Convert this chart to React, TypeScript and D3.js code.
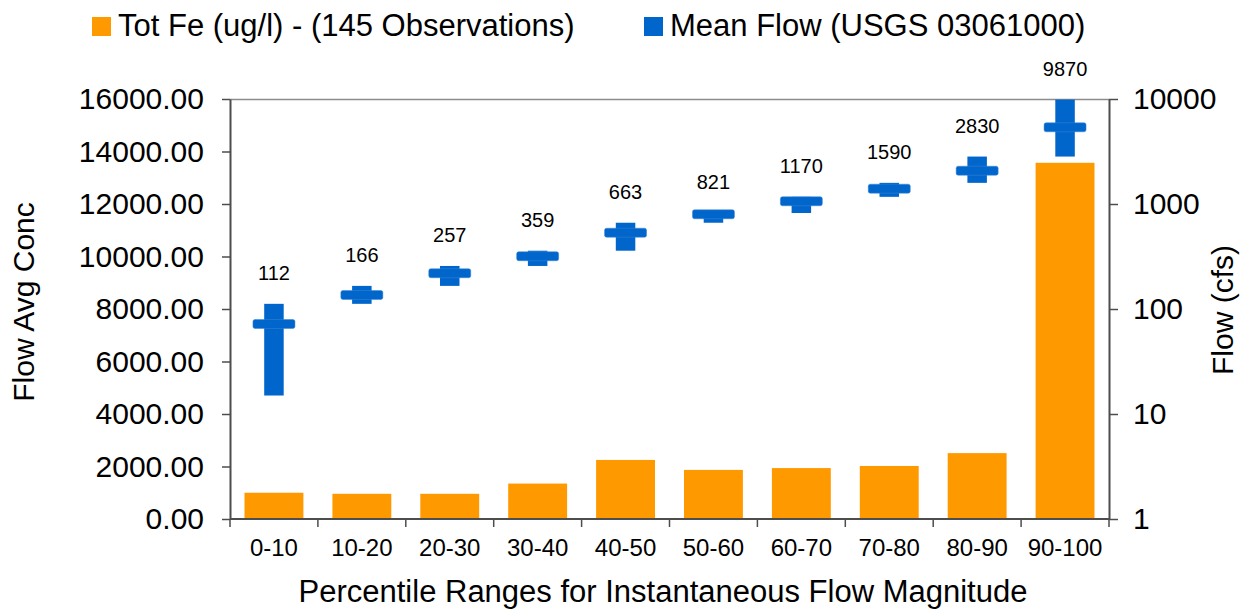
import React, { useEffect, useRef } from 'react';
import * as d3 from 'd3';

const categories = ['0-10', '10-20', '20-30', '30-40', '40-50', '50-60', '60-70', '70-80', '80-90', '90-100'];
const feConc = [1000, 960, 960, 1350, 2250, 1870, 1940, 2020, 2510, 13570];
const flowMean = [72, 136, 219, 318, 533, 798, 1062, 1400, 2075, 5376];
const flowHigh = [112, 166, 257, 359, 663, 821, 1170, 1590, 2830, 9870];
const flowLow = [15, 112, 166, 257, 359, 663, 821, 1170, 1590, 2830];
const leftTicks = [0, 2000, 4000, 6000, 8000, 10000, 12000, 14000, 16000];
const rightTicks = [1, 10, 100, 1000, 10000];
const legendLabels = ['Tot Fe (ug/l) - (145 Observations)', 'Mean Flow (USGS 03061000)'];

const FONT = "'Liberation Sans', Arial, Helvetica, sans-serif";
const ORANGE = '#FF9900';
const BLUE = '#0066CC';
const AXIS = '#4d4d4d';

export default function App() {
  const ref = useRef<SVGSVGElement | null>(null);

  useEffect(() => {
    const svg = d3.select(ref.current);
    svg.selectAll('*').remove();

    const left = 230, right = 1109, top = 99, bottom = 519;

    const x = d3.scaleBand<string>().domain(categories).range([left, right]).padding(0);
    const yL = d3.scaleLinear().domain([0, 16000]).range([bottom, top]);
    const yR = d3.scaleLog().domain([1, 10000]).range([bottom, top]);
    const step = x.step();
    const barW = step * 0.67;
    const center = (c: string) => (x(c) as number) + step / 2;

    const g = svg.append('g').attr('font-family', FONT);

    // bars
    g.append('g')
      .selectAll('rect')
      .data(categories)
      .join('rect')
      .attr('x', (c) => center(c) - barW / 2)
      .attr('width', barW)
      .attr('y', (_, i) => yL(feConc[i]))
      .attr('height', (_, i) => bottom - yL(feConc[i]))
      .attr('fill', ORANGE);

    // top border
    g.append('line')
      .attr('x1', left).attr('x2', right)
      .attr('y1', top + 0.5).attr('y2', top + 0.5)
      .attr('stroke', '#8c8c8c').attr('stroke-width', 1.5);

    // left axis
    const axL = g.append('g')
      .attr('transform', `translate(${left},0)`)
      .call(
        d3.axisLeft(yL).tickValues(leftTicks).tickFormat(d3.format('.2f')).tickSize(8).tickSizeOuter(0).tickPadding(18)
      );
    axL.selectAll('text').attr('font-size', 30).attr('font-family', FONT).attr('fill', '#000');
    axL.selectAll('line').attr('stroke', AXIS).attr('stroke-width', 1.5);
    axL.select('.domain').attr('stroke', AXIS).attr('stroke-width', 2);

    // right axis
    const axR = g.append('g')
      .attr('transform', `translate(${right},0)`)
      .call(
        d3.axisRight(yR).tickValues(rightTicks).tickFormat(d3.format('d')).tickSize(9).tickSizeOuter(0).tickPadding(15)
      );
    axR.selectAll('text').attr('font-size', 30).attr('font-family', FONT).attr('fill', '#000');
    axR.selectAll('line').attr('stroke', AXIS).attr('stroke-width', 1.5);
    axR.select('.domain').attr('stroke', AXIS).attr('stroke-width', 2);

    // bottom axis
    const bnd = [...categories.map((c) => x(c) as number), right];
    g.append('line')
      .attr('x1', left).attr('x2', right)
      .attr('y1', bottom).attr('y2', bottom)
      .attr('stroke', AXIS).attr('stroke-width', 2);
    g.append('g')
      .selectAll('line')
      .data(bnd)
      .join('line')
      .attr('x1', (d) => d).attr('x2', (d) => d)
      .attr('y1', bottom).attr('y2', bottom + 8)
      .attr('stroke', AXIS).attr('stroke-width', 1.5);
    g.append('g')
      .selectAll('text')
      .data(categories)
      .join('text')
      .attr('x', (c) => center(c))
      .attr('y', 556)
      .attr('text-anchor', 'middle')
      .attr('font-size', 24)
      .text((c) => c);

    // flow range bars
    g.append('g')
      .selectAll('rect')
      .data(categories)
      .join('rect')
      .attr('x', (c) => center(c) - 9.75)
      .attr('width', 19.5)
      .attr('y', (_, i) => yR(flowHigh[i]))
      .attr('height', (_, i) => yR(flowLow[i]) - yR(flowHigh[i]))
      .attr('fill', BLUE);

    // mean markers
    g.append('g')
      .selectAll('rect')
      .data(categories)
      .join('rect')
      .attr('x', (c) => center(c) - 21)
      .attr('width', 42)
      .attr('y', (_, i) => yR(flowMean[i]) - 4.5)
      .attr('height', 9)
      .attr('rx', 2)
      .attr('fill', BLUE)
      .attr('stroke', '#3d87d4')
      .attr('stroke-width', 0.5);

    // labels
    g.append('g')
      .selectAll('text')
      .data(categories)
      .join('text')
      .attr('x', (c) => center(c))
      .attr('y', (_, i) => yR(flowHigh[i]) - 24)
      .attr('text-anchor', 'middle')
      .attr('font-size', 20)
      .text((_, i) => String(flowHigh[i]));

    // axis titles
    g.append('text')
      .attr('transform', `translate(34,302) rotate(-90)`)
      .attr('text-anchor', 'middle')
      .attr('font-size', 30)
      .text('Flow Avg Conc');
    g.append('text')
      .attr('transform', `translate(1233,310) rotate(-90)`)
      .attr('text-anchor', 'middle')
      .attr('font-size', 30)
      .text('Flow (cfs)');
    g.append('text')
      .attr('x', 663)
      .attr('y', 602)
      .attr('text-anchor', 'middle')
      .attr('font-size', 31)
      .text('Percentile Ranges for Instantaneous Flow Magnitude');

    // legend
    const legendX = [92, 644];
    const legendColors = [ORANGE, BLUE];
    const lg = g.append('g');
    legendLabels.forEach((lab, i) => {
      lg.append('rect').attr('x', legendX[i]).attr('y', 17).attr('width', 19).attr('height', 19).attr('fill', legendColors[i]);
      lg.append('text').attr('x', legendX[i] + 26).attr('y', 36).attr('font-size', 31).text(lab);
    });
  }, []);

  return (
    <svg
      ref={ref}
      width={1241}
      height={610}
      style={{ position: 'absolute', left: 0, top: 0, background: '#fff' }}
    />
  );
}
